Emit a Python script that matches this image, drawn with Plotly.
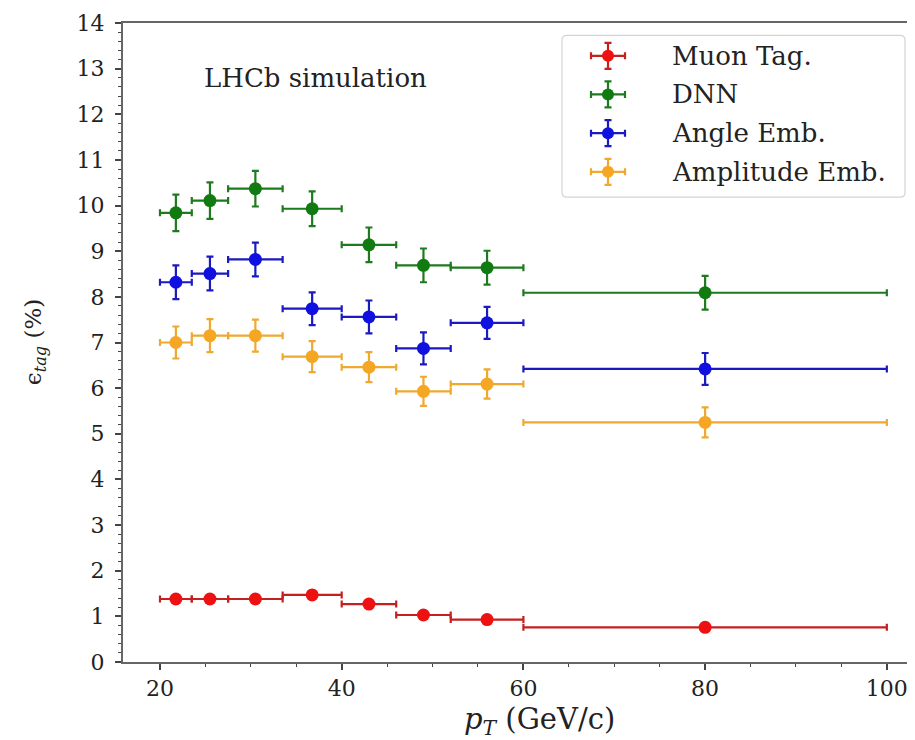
import plotly.graph_objects as go

# bins in pT (GeV/c)
bin_lo = [20, 23.5, 27.5, 33.5, 40, 46, 52, 60]
bin_hi = [23.5, 27.5, 33.5, 40, 46, 52, 60, 100]
bin_center = [21.75, 25.5, 30.5, 36.75, 43, 49, 56, 80]

series_names = ["Muon Tag.", "DNN", "Angle Emb.", "Amplitude Emb."]
muon_eff = [1.38, 1.38, 1.38, 1.47, 1.27, 1.03, 0.93, 0.76]
muon_err = [0.08, 0.08, 0.08, 0.09, 0.08, 0.07, 0.06, 0.05]
dnn_eff = [9.84, 10.11, 10.37, 9.93, 9.14, 8.69, 8.64, 8.09]
dnn_err = [0.40, 0.40, 0.39, 0.38, 0.38, 0.37, 0.37, 0.37]
angle_eff = [8.32, 8.51, 8.82, 7.74, 7.56, 6.87, 7.43, 6.42]
angle_err = [0.37, 0.37, 0.37, 0.36, 0.36, 0.35, 0.35, 0.35]
ampl_eff = [7.00, 7.15, 7.15, 6.69, 6.46, 5.93, 6.09, 5.25]
ampl_err = [0.35, 0.36, 0.35, 0.34, 0.33, 0.32, 0.32, 0.33]

x_ticks = [20, 40, 60, 80, 100]
y_ticks = list(range(0, 15))

colors = ["#ee1111", "#117a11", "#1010e0", "#f5a623"]
bar_colors = ["#c42020", "#1e7a1e", "#1a1ac0", "#efa830"]

FONT = "DejaVu Serif"
TXT = "#222"

# ---- geometry (page pixels; the page body adds an 8 px margin) ----
OFF = 8
W, H = 915 - OFF, 740 - OFF
PL, PR, PT, PB = 123, 915, 22.7, 662     # plot area on the page
PW, PH = PR - PL, PB - PT


def px(X):
    return (X - PL) / PW


def py(Y):
    return (PB - Y) / PH


fig = go.Figure()
all_eff = [muon_eff, dnn_eff, angle_eff, ampl_eff]
all_err = [muon_err, dnn_err, angle_err, ampl_err]
xm = [c - lo for c, lo in zip(bin_center, bin_lo)]
xp = [hi - c for c, hi in zip(bin_center, bin_hi)]
for name, eff, err, col, bcol in zip(series_names, all_eff, all_err, colors, bar_colors):
    fig.add_trace(go.Scatter(
        x=bin_center, y=eff, mode="markers", name=name, showlegend=False,
        marker=dict(color=col, size=13, line=dict(width=0)),
        error_y=dict(type="data", array=err, color=bcol, thickness=2.2, width=3.5),
        error_x=dict(type="data", array=xp, arrayminus=xm, symmetric=False,
                     color=bcol, thickness=2.2, width=3.5),
    ))

# ---- legend drawn on an overlay axis measured in page pixels ----
LEG_X0, LEG_X1, LEG_Y0, LEG_Y1 = 562, 905, 35, 197
GLYPH_X, TEXT_X, ROW0, ROW_STEP = 608, 670, 55.5, 38.7
for i, (name, col, bcol) in enumerate(zip(series_names, colors, bar_colors)):
    ry = ROW0 + ROW_STEP * i
    fig.add_trace(go.Scatter(
        x=[GLYPH_X], y=[ry], xaxis="x2", yaxis="y2", mode="markers",
        showlegend=False, hoverinfo="skip",
        marker=dict(color=col, size=12, line=dict(width=0)),
        error_y=dict(type="data", array=[13], color=bcol, thickness=2.2, width=3.5),
        error_x=dict(type="data", array=[17], color=bcol, thickness=2.2, width=3.5),
    ))
    fig.add_annotation(
        text=name, x=TEXT_X, y=ry, xref="x2", yref="y2",
        xanchor="left", yanchor="middle", showarrow=False,
        font=dict(family=FONT, size=26, color=TXT),
    )

r = 5
path = (f"M {LEG_X0 + r},{LEG_Y0} L {LEG_X1 - r},{LEG_Y0} Q {LEG_X1},{LEG_Y0} {LEG_X1},{LEG_Y0 + r} "
        f"L {LEG_X1},{LEG_Y1 - r} Q {LEG_X1},{LEG_Y1} {LEG_X1 - r},{LEG_Y1} "
        f"L {LEG_X0 + r},{LEG_Y1} Q {LEG_X0},{LEG_Y1} {LEG_X0},{LEG_Y1 - r} "
        f"L {LEG_X0},{LEG_Y0 + r} Q {LEG_X0},{LEG_Y0} {LEG_X0 + r},{LEG_Y0} Z")
fig.add_shape(type="path", path=path, xref="x2", yref="y2",
              line=dict(color="#d4d4d4", width=1.2), fillcolor="white", layer="below")

fig.update_layout(
    width=W, height=H,
    margin=dict(l=PL - OFF, r=0, t=round(PT - OFF), b=H - (PB - OFF)),
    paper_bgcolor="white", plot_bgcolor="white",
    font=dict(family=FONT, color=TXT, size=22),
    showlegend=False,
    xaxis=dict(
        range=[15.93, 103.1], showgrid=False, zeroline=False,
        showline=True, linecolor="#666", linewidth=2, mirror=True,
        ticks="outside", ticklen=6, tickwidth=1.5, tickcolor="#444",
        tickvals=x_ticks, ticktext=[str(v) for v in x_ticks],
        tickfont=dict(family=FONT, size=22, color=TXT),
        minor=dict(ticks="outside", ticklen=3, tickwidth=1.2, tickcolor="#444", dtick=5, tick0=0),
    ),
    yaxis=dict(
        range=[0, 14], showgrid=False, zeroline=False,
        showline=True, linecolor="#666", linewidth=2, mirror=False,
        ticks="outside", ticklen=6, tickwidth=1.5, tickcolor="#444",
        tickvals=y_ticks, ticktext=[str(v) for v in y_ticks],
        tickfont=dict(family=FONT, size=22, color=TXT),
        minor=dict(ticks="outside", ticklen=3, tickwidth=1.2, tickcolor="#444", dtick=0.2, tick0=0),
        ticklabelstandoff=6,
    ),
    xaxis2=dict(overlaying="x", range=[PL, PR], visible=False, fixedrange=True),
    yaxis2=dict(overlaying="y", range=[PB, PT], visible=False, fixedrange=True),
)

fig.add_annotation(
    text="LHCb simulation", x=24.6, y=12.79, xref="x", yref="y",
    xanchor="left", yanchor="middle", showarrow=False,
    font=dict(family=FONT, size=26, color=TXT),
)
fig.add_annotation(
    text="<i>p</i><sub><i>T</i></sub> (GeV/c)", x=px(539), y=py(721),
    xref="paper", yref="paper", xanchor="center", yanchor="middle", showarrow=False,
    font=dict(family=FONT, size=29, color=TXT),
)
fig.add_annotation(
    text="ϵ<sub><i>tag</i></sub> (%)", x=px(35), y=py(342),
    xref="paper", yref="paper", xanchor="center", yanchor="middle", showarrow=False,
    textangle=-90,
    font=dict(family=FONT, size=23, color=TXT),
)

fig.write_html("out.html")
